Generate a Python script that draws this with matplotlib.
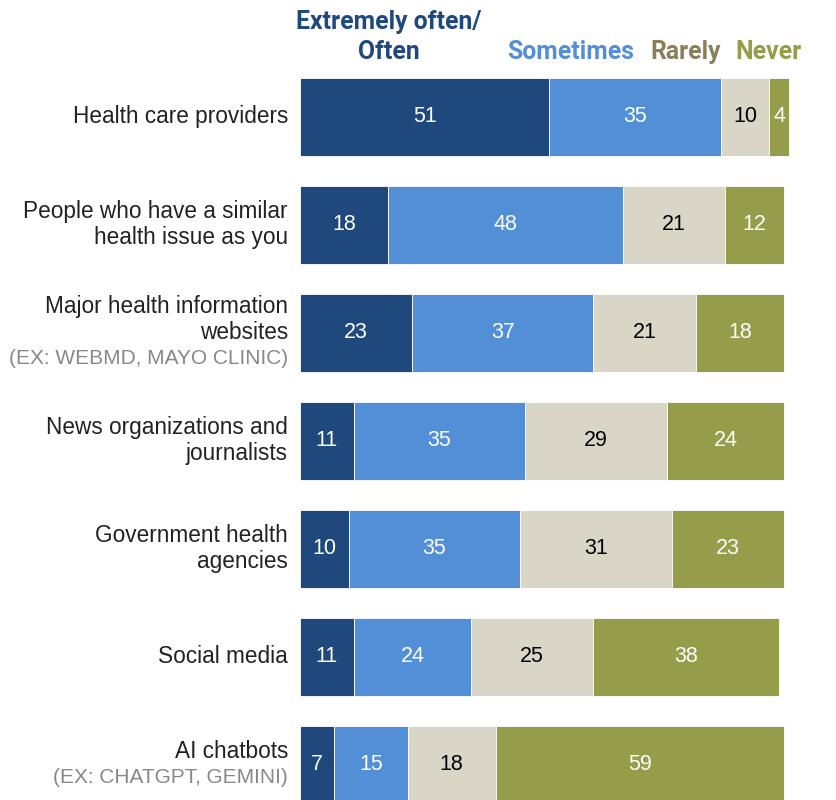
import matplotlib.pyplot as plt

categories = [
    "Health care providers",
    "People who have a similar\nhealth issue as you",
    "Major health information\nwebsites",
    "News organizations and\njournalists",
    "Government health\nagencies",
    "Social media",
    "AI chatbots",
]
examples = ["", "", "(EX: WEBMD, MAYO CLINIC)", "", "", "", "(EX: CHATGPT, GEMINI)"]

often = [51, 18, 23, 11, 10, 11, 7]
sometimes = [35, 48, 37, 35, 35, 24, 15]
rarely = [10, 21, 21, 29, 31, 25, 18]
never = [4, 12, 18, 24, 23, 38, 59]

series = [often, sometimes, rarely, never]
colors = ["#1f497d", "#538fd6", "#d9d6c7", "#959d4a"]
text_colors = ["white", "white", "black", "white"]
header_colors = ["#1f497d", "#538fd6", "#8b7f5a", "#959d4a"]
headers = ["Extremely often/\nOften", "Sometimes", "Rarely", "Never"]

plt.rcParams["font.family"] = ["Liberation Sans", "DejaVu Sans"]

W, H = 837, 800
fig = plt.figure(figsize=(W / 100, H / 100), dpi=100)
# bar area starts at x=300px; 100% = 489px
left_px, px_per_unit = 300, 4.89
ax = fig.add_axes([left_px / W, 0, 1 - left_px / W, 1])
ax.set_xlim(0, (W - left_px) / px_per_unit)
row_px, first_px = 108, 116.5
ax.set_ylim((H - first_px) / row_px, -first_px / row_px)
ax.axis("off")

bar_h = 78 / row_px
for i in range(len(categories)):
    start = 0
    for vals, c, tc in zip(series, colors, text_colors):
        v = vals[i]
        ax.barh(i, v, left=start, height=bar_h, color=c, edgecolor="white", linewidth=0.6)
        ax.text(start + v / 2, i, str(v), ha="center", va="center",
                color=tc, fontsize=15.5)
        start += v

# category labels, with grey example line where present
line_h = 26.5 / row_px
for i, (cat, ex) in enumerate(zip(categories, examples)):
    lines = cat.split("\n")
    cols = ["#222222"] * len(lines)
    sizes = [16.3] * len(lines)
    if ex:
        lines.append(ex)
        cols.append("#888888")
        sizes.append(15)
    n = len(lines)
    for k, (ln, col, fs) in enumerate(zip(lines, cols, sizes)):
        y = i + (k - (n - 1) / 2) * line_h
        ax.text(-12 / px_per_unit, y, ln, ha="right", va="center",
                color=col, fontsize=fs, clip_on=False)

# column headers above first bar
head_font = ["Roboto", "DejaVu Sans"]
hx = [389, 571, 686, 769]
for txt, c, x in zip(headers, header_colors, hx):
    fig.text(x / W, 1 - 59 / H, txt, ha="center", va="baseline", color=c,
             fontsize=17.8, fontweight="bold", family=head_font,
             linespacing=1.3)

fig.savefig("out.png", dpi=100)
